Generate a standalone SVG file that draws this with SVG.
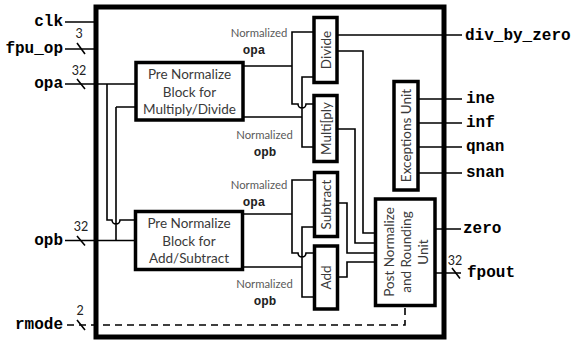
<svg xmlns="http://www.w3.org/2000/svg" width="573" height="341" viewBox="0 0 573 341">
<style>
.box{fill:#fff;stroke:#000;stroke-width:3.5}
.frame{fill:none;stroke:#000;stroke-width:5}
.w{fill:none;stroke:#000;stroke-width:1.6}
.dash{fill:none;stroke:#000;stroke-width:1.6;stroke-dasharray:7 5}
.sig{font-family:"Liberation Mono","Courier New",monospace;font-weight:bold;font-size:16px;fill:#000}
.op{font-family:"Liberation Mono","Courier New",monospace;font-weight:bold;font-size:12.5px;fill:#222;text-anchor:middle}
.bt{font-family:Lato,"Open Sans",sans-serif;font-size:13.5px;fill:#3a3a3a;text-anchor:middle}
.rt{font-family:Lato,"Open Sans",sans-serif;font-size:13.5px;fill:#3a3a3a;text-anchor:middle;dominant-baseline:central}
.nl{font-family:Lato,"Open Sans",sans-serif;font-size:11.3px;fill:#5a5a5a;text-anchor:middle}
.num{font-family:Lato,"Open Sans",sans-serif;font-size:12.5px;fill:#222;text-anchor:middle}
</style>
<rect width="573" height="341" fill="#fff"/>
<g id="connectors">
<path class="w" d="M65,22 H96 M65,49 H96 M65,84 H136 M107,84 V220 H112 A4 4 0 0 0 120 220 H135 M116,107 H136 M116,107 V240.5 M65,240.5 H135"/>
<path class="w" d="M77,43 L85,54 M77,79 L85,89 M77,236 L85,245.5 M77,320 L85,330 M452,268 L460,278.5"/>
<path class="dash" d="M67,325 H405 V307"/>
<path class="w" d="M243,66 H292 M314,32 H292 V104 H298 A4 4 0 0 0 306 104 H314 M243,117 H302 M314,77 H302 V147 H314"/>
<path class="w" d="M243,214 H292 M314,180 H292 V253 H298 A4 4 0 0 0 306 253 H314 M243,267 H302 M314,227 H302 V297 H314"/>
<path class="w" d="M338,35 H462 M338,51 H363 V233 H376 M338,129 H355 V243 H376 M338,203 H347 V253 H376 M338,277 H347 V262 H376"/>
<path class="w" d="M418,99 H462 M418,123 H462 M418,147 H462 M418,173 H462 M435,229 H461 M435,273 H461"/>
</g>
<rect class="frame" x="96" y="7" width="348" height="330"/>
<g id="labels">
<text class="sig" x="63" y="26" text-anchor="end">clk</text>
<text class="sig" x="63" y="53" text-anchor="end">fpu_op</text>
<text class="sig" x="63" y="88" text-anchor="end">opa</text>
<text class="sig" x="63" y="244.5" text-anchor="end">opb</text>
<text class="sig" x="63" y="329" text-anchor="end">rmode</text>
<text class="num" x="79" y="38">3</text>
<text class="num" x="79" y="75">32</text>
<text class="num" x="81" y="230.5">32</text>
<text class="num" x="80" y="315">2</text>
<text class="num" x="455" y="265">32</text>
<text class="sig" x="465" y="39.5">div_by_zero</text>
<text class="sig" x="466" y="103">ine</text>
<text class="sig" x="466" y="127">inf</text>
<text class="sig" x="466" y="151">qnan</text>
<text class="sig" x="466" y="177">snan</text>
<text class="sig" x="463" y="233">zero</text>
<text class="sig" x="467" y="277">fpout</text>
<text class="nl" x="259" y="37">Normalized</text>
<text class="op" x="254" y="54">opa</text>
<text class="nl" x="264.5" y="139">Normalized</text>
<text class="op" x="265" y="155.5">opb</text>
<text class="nl" x="259" y="189">Normalized</text>
<text class="op" x="254" y="206">opa</text>
<text class="nl" x="264.5" y="288">Normalized</text>
<text class="op" x="265" y="304.5">opb</text>
</g>
<g id="pre-muldiv">
<rect class="box" x="136" y="62.5" width="107" height="57.5"/>
<text class="bt" x="189.5" y="79">Pre Normalize</text>
<text class="bt" x="189.5" y="96.5">Block for</text>
<text class="bt" x="189.5" y="114">Multiply/Divide</text>
</g>
<g id="pre-addsub">
<rect class="box" x="135.5" y="211.5" width="107" height="58"/>
<text class="bt" x="189" y="228">Pre Normalize</text>
<text class="bt" x="189" y="245.5">Block for</text>
<text class="bt" x="189" y="263">Add/Subtract</text>
</g>
<g id="divide">
<rect class="box" x="314" y="17.5" width="23" height="65"/>
<text class="rt" transform="translate(325.5,50) rotate(-90)">Divide</text>
</g>
<g id="multiply">
<rect class="box" x="314" y="95.5" width="23" height="66"/>
<text class="rt" transform="translate(325.5,128.5) rotate(-90)">Multi[ply</text>
</g>
<g id="subtract">
<rect class="box" x="314.5" y="172.5" width="23" height="64"/>
<text class="rt" transform="translate(326,204.5) rotate(-90)">Subtract</text>
</g>
<g id="add">
<rect class="box" x="314.5" y="246" width="23" height="63"/>
<text class="rt" transform="translate(326,277.5) rotate(-90)">Add</text>
</g>
<g id="exceptions">
<rect class="box" x="394" y="81.5" width="24" height="108.5"/>
<text class="rt" transform="translate(406,135.5) rotate(-90)">Exceptions Unit</text>
</g>
<g id="postnorm">
<rect class="box" x="375.5" y="199" width="59.5" height="106.5"/>
<g transform="translate(406,252) rotate(-90)">
<text class="rt" x="0" y="-17">Post Normalize</text>
<text class="rt" x="0" y="0">and Rounding</text>
<text class="rt" x="0" y="17">Unit</text>
</g>
</g>
</svg>
